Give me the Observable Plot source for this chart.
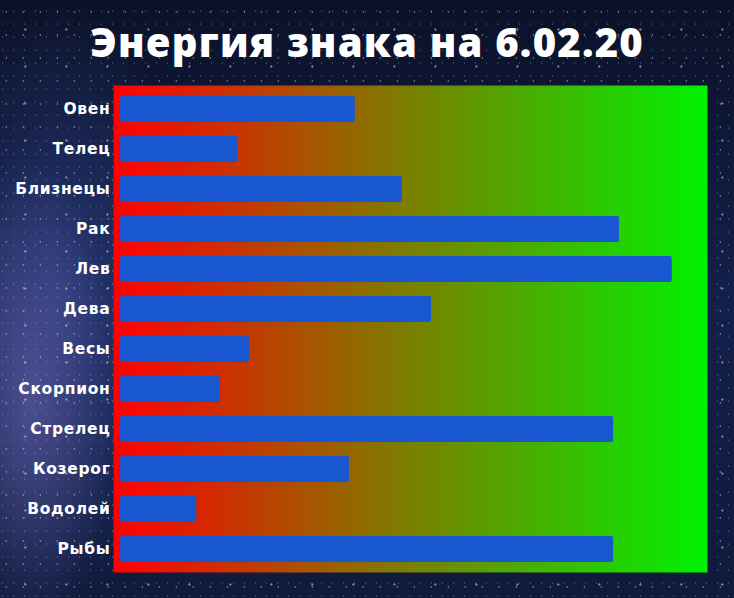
<!DOCTYPE html>
<html>
<head>
<meta charset="utf-8">
<script src="https://cdn.jsdelivr.net/npm/d3@7"></script>
<script src="https://cdn.jsdelivr.net/npm/@observablehq/plot@0.6"></script>
<style>
  html, body { margin: 0; padding: 0; }
  body {
    width: 734px; height: 598px; overflow: hidden;
    background:
      radial-gradient(circle at 20% 30%, rgba(255,255,255,0.35) 0.6px, transparent 1.2px) 3px 5px / 17px 23px,
      radial-gradient(circle at 60% 70%, rgba(255,255,255,0.22) 0.5px, transparent 1px) 7px 2px / 11px 13px,
      radial-gradient(circle at 40% 50%, rgba(255,255,255,0.45) 0.8px, transparent 1.5px) 9px 11px / 41px 37px,
      radial-gradient(ellipse 110px 300px at 30px 400px, rgba(120,110,190,0.5), transparent 80%),
      radial-gradient(ellipse 170px 380px at 60px 300px, rgba(60,80,160,0.5), transparent 80%),
      linear-gradient(180deg, #0b1128 0%, #13204a 50%, #0f1a3c 100%);
  }
  #title {
    height: 70px; line-height: 84px; text-align: center;
    color: #ffffff; font-weight: 800; font-size: 40px;
    font-family: "Open Sans", sans-serif; letter-spacing: 1.2px;
    white-space: nowrap;
  }
  svg { display: block; }
</style>
</head>
<body>
<div id="title">Энергия знака на 6.02.20</div>
<div id="chart"></div>
<script>
const signs = ["Овен","Телец","Близнецы","Рак","Лев","Дева","Весы","Скорпион","Стрелец","Козерог","Водолей","Рыбы"];
const energy = [40, 20, 48, 85, 94, 53, 22, 17, 84, 39, 13, 84];

const data = signs.map((s, i) => ({sign: s, value: energy[i]}));

const chart = Plot.plot({
  width: 734,
  height: 528,
  marginTop: 15,
  marginBottom: 26,
  marginLeft: 113,
  marginRight: 27,
  style: {background: "transparent", overflow: "visible"},
  x: {domain: [0, 100], insetLeft: 7, axis: null},
  y: {domain: signs, paddingInner: 0.36, paddingOuter: 0.18, axis: null},
  marks: [
    Plot.frame({fill: "url(#bggrad)", stroke: null}),
    Plot.barX(data, {x: "value", y: "sign", fill: "#1857cf", rx: 2}),
    Plot.axisY({tickSize: 0, tickPadding: 3, fill: "#ffffff", fontSize: 15.5, fontWeight: "bold", fontFamily: "DejaVu Sans", label: null})
  ]
});

chart.querySelectorAll("g[aria-label='y-axis tick label'] text").forEach(t => t.setAttribute("letter-spacing", "0.7"));

const defs = document.createElementNS("http://www.w3.org/2000/svg", "defs");
defs.innerHTML = `<linearGradient id="bggrad" x1="0" x2="1" y1="0" y2="0">
  <stop offset="0" stop-color="#ff0000"/>
  <stop offset="0.5" stop-color="#7a8000"/>
  <stop offset="1" stop-color="#00f200"/>
</linearGradient>`;
chart.insertBefore(defs, chart.firstChild);
document.getElementById("chart").appendChild(chart);
</script>
</body>
</html>
